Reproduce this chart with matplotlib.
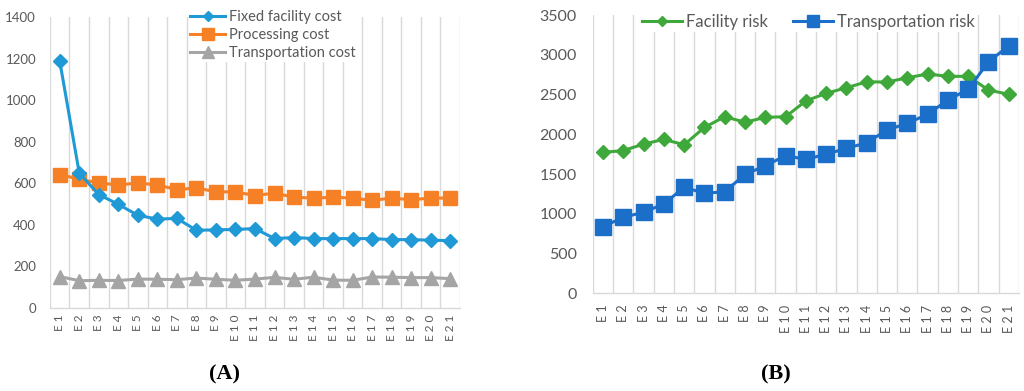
import matplotlib
matplotlib.use("Agg")
import matplotlib.pyplot as plt

categories = [f"E{i}" for i in range(1, 22)]

fixed_facility_cost = [1188, 648, 545, 498, 445, 427, 430, 373, 375, 377, 381,
                       333, 338, 333, 333, 333, 333, 328, 328, 325, 323]
processing_cost = [640, 620, 600, 592, 600, 592, 568, 577, 558, 558, 540,
                   552, 532, 528, 532, 528, 517, 528, 520, 528, 528]
transportation_cost = [150, 130, 132, 131, 138, 137, 135, 143, 137, 132, 138,
                       146, 137, 147, 133, 132, 148, 147, 145, 145, 140]

facility_risk = [1773, 1795, 1877, 1936, 1868, 2087, 2221, 2152, 2213, 2221, 2420,
                 2515, 2586, 2660, 2657, 2711, 2758, 2729, 2729, 2557, 2502]
transportation_risk = [838, 956, 1020, 1123, 1335, 1257, 1278, 1495, 1605, 1731, 1685,
                       1750, 1823, 1894, 2054, 2138, 2251, 2431, 2565, 2912, 3110]

left_yticks = [0, 200, 400, 600, 800, 1000, 1200, 1400]
right_yticks = [0, 500, 1000, 1500, 2000, 2500, 3000, 3500]

FONT = "Lato"
TICK_COLOR = "#595959"
GRID = "#d9d9d9"

fig = plt.figure(figsize=(10.24, 3.91), dpi=100)

def style_axes(ax, yticks, ysize, ypad, xsize, xpad):
    n = len(categories)
    x = list(range(n))
    ax.set_xlim(-0.5, n - 0.5)
    ax.set_ylim(yticks[0], yticks[-1])
    ax.set_yticks(yticks)
    ax.set_yticklabels([str(v) for v in yticks], fontfamily=FONT, fontsize=ysize, color=TICK_COLOR)
    ax.set_xticks(x)
    ax.set_xticklabels([" ".join(list(c)) for c in categories], rotation=90,
                       fontfamily=FONT, fontsize=xsize, color=TICK_COLOR, va="top", ha="center")
    for b in [i - 0.5 for i in range(n + 1)]:
        ax.axvline(b, color=GRID, lw=1.0, zorder=0)
    for s in ["top", "right", "left"]:
        ax.spines[s].set_visible(False)
    ax.spines["bottom"].set_color(GRID)
    ax.spines["bottom"].set_linewidth(1.0)
    ax.tick_params(axis="both", length=0)
    ax.tick_params(axis="y", pad=ypad)
    ax.tick_params(axis="x", pad=xpad)
    return x

# Panel A
axA = fig.add_axes([0.0488, 0.213, 0.4004, 0.7435])
x = style_axes(axA, left_yticks, 9.5, 10, 8.5, 5)
axA.plot(x, fixed_facility_cost, color="#1f9ad6", lw=2.2, marker="D", markersize=7,
         label="Fixed facility cost", zorder=3)
axA.plot(x, processing_cost, color="#f58025", lw=2.2, marker="s", markersize=10,
         label="Processing cost", zorder=2)
axA.plot(x, transportation_cost, color="#a5a5a5", lw=2.2, marker="^", markersize=10,
         label="Transportation cost", zorder=2)
legA = axA.legend(loc="upper left", bbox_to_anchor=(0.338, 1.03), frameon=True, framealpha=1,
                  edgecolor="none", prop={"family": FONT, "size": 10.5}, handlelength=2.4,
                  handletextpad=0.25, labelspacing=0.3, borderpad=0.1, borderaxespad=0,
                  labelcolor=TICK_COLOR, markerscale=0.8)
legA.get_frame().set_facecolor("white")

# Panel B
axB = fig.add_axes([0.579, 0.2498, 0.416, 0.7118])
x = style_axes(axB, right_yticks, 11.5, 11.5, 9, 8)
axB.plot(x, facility_risk, color="#3fa83a", lw=2.2, marker="D", markersize=7,
         label="Facility risk", zorder=2)
axB.plot(x, transportation_risk, color="#1b6fc9", lw=2.2, marker="s", markersize=11,
         label="Transportation risk", zorder=3)
legB = axB.legend(loc="upper left", bbox_to_anchor=(0.112, 1.01), ncol=2, frameon=True, framealpha=1,
                  edgecolor="none", prop={"family": FONT, "size": 12}, handlelength=2.4,
                  handletextpad=0.25, columnspacing=1.5, borderpad=0.1, borderaxespad=0,
                  labelcolor=TICK_COLOR, markerscale=0.8)
legB.get_frame().set_facecolor("white")

fig.text(225 / 1024, 1 - 374 / 391, "(A)", ha="center", va="center", fontsize=16,
         fontweight="bold", family="Liberation Serif")
fig.text(776 / 1024, 1 - 374 / 391, "(B)", ha="center", va="center", fontsize=16,
         fontweight="bold", family="Liberation Serif")

fig.savefig("out.png", dpi=100)
